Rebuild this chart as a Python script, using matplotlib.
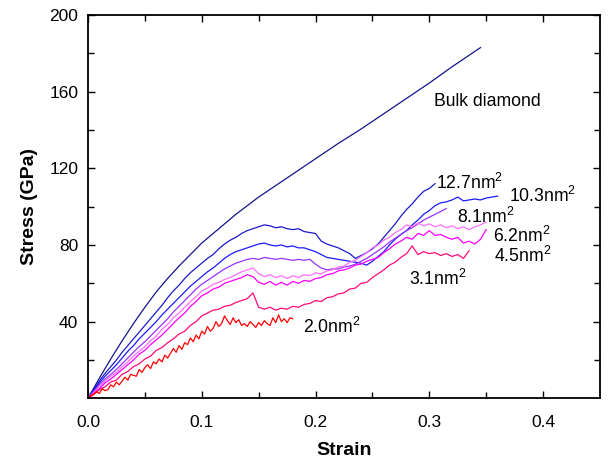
"""
Stress-strain curves of diamond nanowires of different cross sections vs bulk diamond.
"""

import matplotlib

matplotlib.use("Agg")
import matplotlib.pyplot as plt
import numpy as np

plt.rcParams["font.family"] = ["Liberation Sans", "DejaVu Sans"]
plt.rcParams["mathtext.fontset"] = "custom"
plt.rcParams["mathtext.rm"] = "Liberation Sans"

# sampling step of the nanowire curves (strain); the 2.0 nm^2 wire is sampled finer
STEP = 0.005
STEP_FINE = 0.0025

bulk_strain = [0.0, 0.01, 0.02, 0.03, 0.04, 0.05, 0.06, 0.07, 0.08, 0.09, 0.10,
               0.11, 0.12, 0.13, 0.14, 0.15, 0.16, 0.17, 0.18, 0.19, 0.20,
               0.22, 0.24, 0.26, 0.28, 0.30, 0.32, 0.345]
bulk_stress = [0, 10.5, 20.5, 30, 39, 47.5, 55.5, 62.5, 69, 75, 81,
               86, 91, 96, 100.5, 105, 109, 113, 117, 121, 125,
               133, 140.5, 148.5, 156.5, 164.5, 173, 183]

stress_127 = [0, 4.5, 9, 13, 16.5, 20, 24, 27.5, 31, 34.5, 38, 41.5, 45, 48.5, 52.5, 56,
              59, 62.5, 65.5, 68, 70.5, 73, 75, 78, 80.5, 82.5, 84, 86, 87.5, 88.5, 89.5,
              90.5, 90, 89, 89.5, 88.5, 88, 88.5, 87, 86.5, 86, 82, 80.5, 79.5, 78.5, 77,
              75.5, 73, 74.5, 76, 78, 80.5, 84, 87.5, 91, 95, 98.5, 101.5, 105, 108, 109.5,
              112]

stress_103 = [0, 4, 8, 11.5, 14.5, 17.5, 21, 24.5, 27.5, 31, 34, 37, 40, 43.5, 46.5, 49.5,
              52.5, 55.5, 58.5, 61, 63.5, 66, 68, 70.5, 73, 75, 76.5, 77.5, 78.5, 79.5, 80.5,
              81, 80, 79.5, 80, 79, 79.5, 78.5, 78.5, 77.5, 76.5, 75, 73.5, 73, 72.5, 72,
              71.5, 71, 70.5, 69.5, 71.5, 74, 76.5, 80, 83, 85.5, 87.5, 90.5, 93, 96, 98,
              100.5, 102, 102.5, 103.5, 105, 103, 103.5, 104, 103.5, 104.5, 105, 105.5]

stress_81 = [0, 3.5, 7, 10, 12.5, 15, 18, 21, 24, 27, 29.5, 32.5, 35.5, 38.5, 41.5, 45,
             48, 51, 54, 57, 59.5, 61.5, 63.5, 65.5, 67.5, 69, 70.5, 71.5, 72.5, 73, 72.5,
             73.5, 73, 72.5, 73, 72.5, 72, 72.5, 72, 72.5, 70, 68, 67, 67.5, 67.5, 68.5,
             69, 70, 71.5, 73, 75, 77, 79, 81.5, 83.5, 85.5, 87.5, 89, 91, 93, 94.5,
             96, 97.5, 99]

stress_62 = [0, 3, 6, 9, 11.5, 13.5, 16.5, 19, 22, 24.5, 27, 30, 32.5, 36, 38.5, 42,
             44.5, 47.5, 50.5, 53, 56, 57.5, 59.5, 60.5, 62, 63, 64.5, 66, 67, 68, 65,
             63.5, 64.5, 63, 64, 62.5, 64, 63, 64.5, 64, 65.5, 65, 66.5, 67, 68.5, 69,
             71, 72, 74, 76, 78.5, 80, 82.5, 84, 86.5, 88, 90.5, 89.5, 91.5, 90, 91,
             89.5, 90.5, 89, 90, 88.5, 89.5, 88, 89.5, 90.5, 92]

stress_45 = [0, 2.5, 5, 8, 10, 12.5, 15, 17.5, 20, 23, 25, 28, 30.5, 33, 36, 39,
             42, 44.5, 48, 50.5, 53.5, 55, 57, 58, 60, 61, 62, 63, 64.5, 63.5, 60.5,
             59.5, 61, 59, 60.5, 59, 61, 60, 61.5, 61, 62.5, 63, 64.5, 65, 66.5, 67,
             68, 69.5, 70, 71.5, 72.5, 73.5, 76, 78, 80.5, 82, 84, 83, 86, 85, 87.5,
             85, 85.5, 84, 83, 84, 81, 82, 80.5, 83, 88]

stress_31 = [0, 2, 4.5, 6, 8.5, 9.5, 12.5, 14, 16.5, 18, 20.5, 22, 25, 26.5, 29, 31,
             33.5, 35, 38, 40, 43, 44.5, 46, 46.5, 48, 48.5, 50, 51, 52, 55, 47.5,
             46.5, 47.5, 46, 47, 46.5, 48, 47.5, 49, 49.5, 51, 50.5, 52.5, 53, 54.5, 55,
             57, 57.5, 60, 60.5, 63, 65, 67, 69.5, 71, 73.5, 75.5, 79.5, 75, 76.5, 75.5,
             76, 74.5, 75.5, 74, 75, 73, 77]

stress_20 = [0, 1.5, 2, 3.5, 2.5, 5, 4, 4.5, 7, 6, 8.5, 7, 9, 11, 9.5, 12.5,
             12, 11.5, 15, 13.5, 16, 17.5, 15.5, 19, 18, 20.5, 19, 22.5, 21, 23.5, 26,
             24, 27.5, 25.5, 29, 28, 31.5, 29.5, 33, 31, 35, 33.5, 37.5, 35, 36.5, 40,
             37.5, 39, 43, 40.5, 38.5, 42, 39.5, 41, 38, 39, 37.5, 40, 38.5, 37, 39.5,
             38, 40.5, 39, 38, 42, 39.5, 43.5, 40, 41.5, 39.5, 42, 41.5]

curves = [
    (stress_127, STEP, "#1a1acc"),
    (stress_103, STEP, "#1a1aff"),
    (stress_81, STEP, "#9933ff"),
    (stress_62, STEP, "#ff70ff"),
    (stress_45, STEP, "#ff00ff"),
    (stress_31, STEP, "#ff0a78"),
    (stress_20, STEP_FINE, "#ff0000"),
]

labels = ["Bulk diamond", "12.7nm$^2$", "10.3nm$^2$", "8.1nm$^2$", "6.2nm$^2$",
          "4.5nm$^2$", "3.1nm$^2$", "2.0nm$^2$"]
label_x = [0.304, 0.306, 0.370, 0.3245, 0.356, 0.357, 0.2824, 0.189]
label_y = [152.5, 109.0, 102.6, 91.3, 81.4, 71.3, 59.1, 34.2]

fig = plt.figure(figsize=(6.08, 4.62), dpi=100)
ax = fig.add_axes([0.1447, 0.1379, 0.8421, 0.8296])

ax.plot(bulk_strain, bulk_stress, color="#14148a", lw=0.9)
for stress, step, color in curves:
    strain = np.arange(len(stress)) * step
    ax.plot(strain, stress, color=color, lw=0.9)

for text, x, y in zip(labels, label_x, label_y):
    ax.text(x, y, text, fontsize=12.7, va="baseline", ha="left")

ax.set_xlim(0, 0.45)
ax.set_ylim(0, 200)
ax.set_xticks([0.0, 0.1, 0.2, 0.3, 0.4])
ax.set_xticklabels(["0.0", "0.1", "0.2", "0.3", "0.4"])
ax.set_xticks(np.arange(0.05, 0.45, 0.1), minor=True)
ax.set_yticks([40, 80, 120, 160, 200])
ax.set_yticks([20, 60, 100, 140, 180], minor=True)

ax.tick_params(which="both", direction="in", top=True, right=True, labelsize=12.5,
               width=1.0)
ax.tick_params(axis="x", pad=12)
ax.tick_params(axis="y", pad=7)
ax.tick_params(which="major", length=5)
ax.tick_params(which="minor", length=4)
for spine in ax.spines.values():
    spine.set_linewidth(1.3)

ax.set_xlabel("Strain", fontsize=14, fontweight="bold", labelpad=9)
ax.set_ylabel("Stress (GPa)", fontsize=14, fontweight="bold", labelpad=8)

fig.savefig("out.png", dpi=100)
